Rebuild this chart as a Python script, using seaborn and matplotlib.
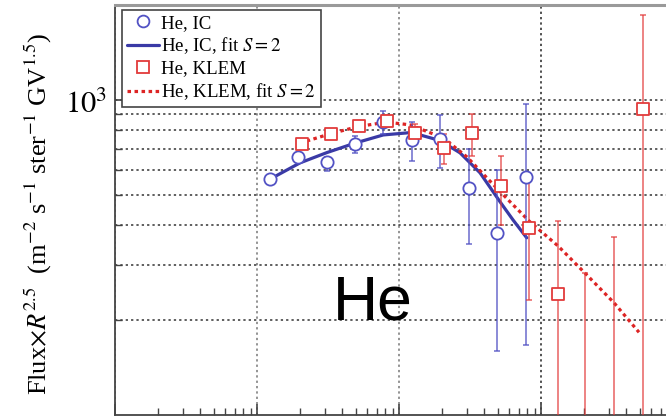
import matplotlib
matplotlib.use("Agg")
import matplotlib.pyplot as plt
from matplotlib.lines import Line2D
from matplotlib.ticker import FixedLocator, NullFormatter
from matplotlib.transforms import ScaledTranslation, blended_transform_factory
import numpy as np
import seaborn as sns

# Helium flux x R^2.5 vs rigidity R (GV): IC and KLEM measurements with S = 2 fits
ic_R = [1230, 1950, 3100, 4900, 7700, 12300, 19500, 31000, 49000, 78000]
ic_flux = [561, 659, 635, 725, 851, 747, 751, 526, 379, 570]
ic_hi = [572, 670, 659, 769, 923, 851, 896, 699, 600, 971]
ic_lo = [550, 648, 595, 679, 780, 640, 609, 349, 160, 167]

klem_R = [2070, 3320, 5220, 8220, 13000, 20700, 32700, 52200, 82200,
          132000, 204000, 327000, 522000]
klem_flux = [725, 780, 827, 858, 786, 704, 786, 533, 393, 242, 60, 70, 937]
klem_hi = [738, 793, 842, 896, 839, 780, 903, 664, 553, 413, 282, 367, 1862]
klem_lo = [712, 767, 812, 821, 736, 627, 664, 401, 232, 40, 20, 20, 40]

ic_fit_R = [1269, 2008, 3097, 4898, 7752, 11950, 14060, 19440, 26900,
            37190, 51440, 63510, 79300]
ic_fit_flux = [564, 631, 680, 729, 774, 787, 774, 743, 679, 587, 475, 416, 365]

klem_fit_R = [2008, 3266, 5169, 8193, 11950, 20410, 30120, 41660, 60490,
              83650, 131700, 204100, 326800, 489800]
klem_fit_flux = [729, 780, 823, 850, 833, 758, 659, 565, 475, 410, 344, 282,
                 227, 183]

y_major = [1000]
y_major_labels = ["$10^3$"]
y_minor = [200, 300, 400, 500, 600, 700, 800, 900]

BLUE_PT = "#5252c4"
BLUE_LINE = "#3a3aa6"
RED_PT = "#e23a3a"
RED_LINE = "#dd2424"

sns.set_theme(style="white")
plt.rcParams["font.family"] = ["Liberation Serif", "DejaVu Serif"]
plt.rcParams["mathtext.fontset"] = "stix"
plt.rcParams["text.color"] = "black"

W, H = 666, 416
fig = plt.figure(figsize=(W / 100, H / 100), dpi=100)
x0, x1 = 115, 115 + 4 * 142
y_top, y_bot = 5, 415
ax = fig.add_axes([x0 / W, (H - y_bot) / H, (x1 - x0) / W, (y_bot - y_top) / H])
ax.set_xscale("log")
ax.set_yscale("log")
ax.set_xlim(1e2, 1e6)
ax.set_ylim(100, 2000)

# fits
sns.lineplot(x=ic_fit_R, y=ic_fit_flux, ax=ax, color=BLUE_LINE, lw=2.3,
             sort=True, zorder=3)
sns.lineplot(x=klem_fit_R, y=klem_fit_flux, ax=ax, color=RED_LINE, lw=2.3,
             linestyle=(0, (1.1, 1.1)), sort=True, zorder=3)

# error bars
ic_f = np.array(ic_flux)
kl_f = np.array(klem_flux)
ax.errorbar(ic_R, ic_flux, yerr=[ic_f - np.array(ic_lo), np.array(ic_hi) - ic_f],
            fmt="none", ecolor=BLUE_PT, elinewidth=1.1, capsize=2.5,
            capthick=1.1, alpha=0.85, zorder=4)
ax.errorbar(klem_R, klem_flux, yerr=[kl_f - np.array(klem_lo), np.array(klem_hi) - kl_f],
            fmt="none", ecolor=RED_PT, elinewidth=1.1, capsize=2.5,
            capthick=1.1, alpha=0.8, zorder=4)

# markers
sns.scatterplot(x=ic_R, y=ic_flux, ax=ax, marker="o", s=78, facecolor="white",
                edgecolor=BLUE_PT, linewidth=1.3, zorder=5)
sns.scatterplot(x=klem_R, y=klem_flux, ax=ax, marker="s", s=72, facecolor="white",
                edgecolor=RED_PT, linewidth=1.3, zorder=5)

# ticks and grid
ax.yaxis.set_major_locator(FixedLocator(y_major))
ax.yaxis.set_minor_locator(FixedLocator(y_minor))
ax.yaxis.set_minor_formatter(NullFormatter())
ax.set_yticklabels([])
ax.set_xticklabels([])
ax.xaxis.set_minor_formatter(NullFormatter())
ax.tick_params(which="both", direction="in", left=True, bottom=True,
               colors="#444444")
ax.tick_params(which="major", length=8, width=1.2)
ax.tick_params(which="minor", length=5, width=1.0)

# y tick label, sitting slightly below its grid line
lbl_tr = blended_transform_factory(ax.transAxes, ax.transData) + \
    ScaledTranslation(-8 / 100, -6 / 100, fig.dpi_scale_trans)
for yv, txt in zip(y_major, y_major_labels):
    ax.text(0, yv, txt, transform=lbl_tr, ha="right", va="center",
            fontsize=22, color="black")

ax.yaxis.grid(True, which="both", ls=(0, (1.5, 2)), color="#333333", lw=1.1)
ax.xaxis.grid(True, which="major", ls=(0, (1.5, 2)), color="#777777", lw=1.1)
ax.xaxis.grid(False, which="minor")
for gl in ax.get_xgridlines():
    if abs(gl.get_xdata()[0] - 1e5) < 1:
        gl.set_color("#222222")

for side in ("left", "bottom"):
    ax.spines[side].set_color("#444444")
    ax.spines[side].set_linewidth(1.3)
ax.spines["top"].set_color("#9a9a9a")
ax.spines["top"].set_linewidth(2.2)
ax.spines["right"].set_visible(False)

handles = [
    Line2D([], [], ls="none", marker="o", ms=8.5, mfc="white", mec=BLUE_PT, mew=1.3),
    Line2D([], [], color=BLUE_LINE, lw=2.3),
    Line2D([], [], ls="none", marker="s", ms=8, mfc="white", mec=RED_PT, mew=1.3),
    Line2D([], [], color=RED_LINE, lw=2.3, ls=(0, (1.1, 1.1))),
]
labels = ["He, IC", "He, IC, fit $S = 2$", "He, KLEM", "He, KLEM, fit $S = 2$"]
leg = ax.legend(handles, labels, loc="upper left", bbox_to_anchor=(0.012, 0.988),
                borderaxespad=0, fontsize=13.6, frameon=True, fancybox=False,
                framealpha=1, edgecolor="#444444", handlelength=1.7,
                handletextpad=0.15, labelspacing=0.2, borderpad=0.25)
leg.get_frame().set_linewidth(1.2)
leg.set_zorder(10)
for t in leg.get_texts():
    t.set_color("black")

fig.text(38 / W, 1 - 214 / H,
         r"Flux$\times R^{2.5}$  (m$^{-2}$ s$^{-1}$ ster$^{-1}$ GV$^{1.5}$)",
         rotation=90, ha="center", va="center", fontsize=19, color="black")

fig.text(333 / W, 1 - 320 / H, "He", family="Liberation Sans", fontsize=45,
         ha="left", va="baseline", color="black")

fig.savefig("out.png", dpi=100)
